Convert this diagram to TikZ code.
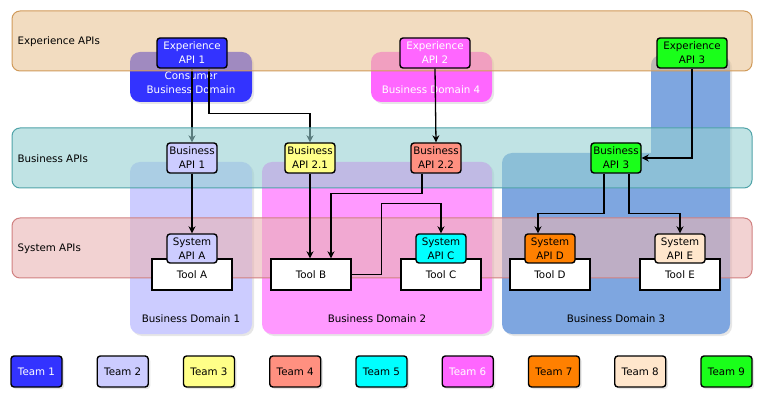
\documentclass[tikz,border=0pt]{standalone}
\usepackage{fontspec}
\setmainfont{DejaVu Sans}
\usetikzlibrary{shadows,arrows.meta}

\definecolor{teamone}{HTML}{3333FF}
\definecolor{teamtwo}{HTML}{CCCCFF}
\definecolor{teamthree}{HTML}{FFFF88}
\definecolor{teamfour}{HTML}{FF9080}
\definecolor{teamfive}{HTML}{00FFFF}
\definecolor{teamsix}{HTML}{FF66FF}
\definecolor{teamseven}{HTML}{FF8000}
\definecolor{teameight}{HTML}{FFE6CC}
\definecolor{teamnine}{HTML}{1AFF1A}
\definecolor{domtwo}{HTML}{FF99FF}
\definecolor{domthree}{HTML}{7EA6E0}
\definecolor{expfill}{HTML}{E9C596}
\definecolor{expline}{HTML}{D09A5A}
\definecolor{busfill}{HTML}{96D0D2}
\definecolor{busline}{HTML}{4FA3A8}
\definecolor{sysfill}{HTML}{E9B4B4}
\definecolor{sysline}{HTML}{D08080}

\newcommand{\apifont}{\fontsize{10.3}{14}\selectfont}

\pgfdeclarelayer{bg}
\pgfdeclarelayer{mid}
\pgfsetlayers{bg,mid,main}

\begin{document}
\begin{tikzpicture}[x=1pt,y=-1pt,
    band/.style={rounded corners=8pt,line width=1pt,fill opacity=0.6},
    bizdomain/.style={rounded corners=10pt,drop shadow={opacity=0.2,shadow xshift=2pt,shadow yshift=-2pt}},
    domlbl/.style={font=\apifont,align=center},
    bandlbl/.style={font=\apifont,anchor=west},
    api/.style={draw=black,line width=1.4pt,rounded corners=3pt,minimum width=50pt,minimum height=30pt,inner sep=0pt,align=center,font=\apifont},
    expapi/.style={api,minimum width=70pt},
    tool/.style={draw=black,line width=1.4pt,fill=white,minimum width=80pt,minimum height=31pt,inner sep=0pt,font=\apifont},
    team/.style={api,minimum width=51pt,minimum height=31pt,drop shadow={opacity=0.2,shadow xshift=2pt,shadow yshift=-2pt}},
    arr/.style={-{Stealth[length=7pt,width=7pt]},line width=1.3pt}]
    \useasboundingbox (0,0) rectangle (768,403);

    % business domains
    \begin{pgfonlayer}{bg}
    \path[bizdomain,fill=teamone] (130,52) rectangle (252,102);
    \path[bizdomain,fill=teamsix] (371,52) rectangle (492,102);
    \path[bizdomain,fill=teamtwo] (130,162) rectangle (252,334);
    \path[bizdomain,fill=domtwo] (262,162) rectangle (492,334);
    \path[bizdomain,fill=domthree] (651,55) rectangle (730,334) (502,153) rectangle (730,334);
    \node[domlbl,text=white] (consumer) at (191,82.5) {Consumer\\Business Domain};
    \node[domlbl,text=white] (domfour) at (431,90) {Business Domain 4};
    \node[domlbl] (domone) at (191,319) {Business Domain 1};
    \node[domlbl] (domtwo) at (377,319) {Business Domain 2};
    \node[domlbl] (domthree) at (616,319) {Business Domain 3};
    \end{pgfonlayer}

    % layers
    \begin{pgfonlayer}{mid}
    \draw[band,fill=expfill,draw=expline] (12,11) rectangle (752,71);
    \draw[band,fill=busfill,draw=busline] (12,128) rectangle (752,188);
    \draw[band,fill=sysfill,draw=sysline] (12,218) rectangle (752,278);
    \end{pgfonlayer}
    \node[bandlbl] (explbl) at (14,42) {Experience APIs};
    \node[bandlbl] (buslbl) at (14,159) {Business APIs};
    \node[bandlbl] (syslbl) at (14,249) {System APIs};

    % experience apis
    \node[expapi,fill=teamone,text=white] (exp1) at (192,53) {Experience\\API 1};
    \node[expapi,fill=teamsix,text=white] (exp2) at (435,53) {Experience\\API 2};
    \node[expapi,fill=teamnine] (exp3) at (692,53) {Experience\\API 3};

    % business apis
    \node[api,fill=teamtwo] (bapi1) at (192,158) {Business\\API 1};
    \node[api,fill=teamthree] (bapi21) at (310,158) {Business\\API 2.1};
    \node[api,fill=teamfour] (bapi22) at (436,158) {Business\\API 2.2};
    \node[api,fill=teamnine] (bapi3) at (616,158) {Business\\API 3};

    % tools and system apis
    \node[tool] (toolA) at (192,274.5) {Tool A};
    \node[tool] (toolB) at (311,274.5) {Tool B};
    \node[tool] (toolC) at (441,274.5) {Tool C};
    \node[tool] (toolD) at (550,274.5) {Tool D};
    \node[tool] (toolE) at (680,274.5) {Tool E};
    \node[api,fill=teamtwo,minimum height=29pt] (sapiA) at (192,248.5) {System\\API A};
    \node[api,fill=teamfive,minimum height=29pt] (sapiC) at (441,248.5) {System\\API C};
    \node[api,fill=teamseven,minimum height=29pt] (sapiD) at (550,248.5) {System\\API D};
    \node[api,fill=teameight,minimum height=29pt] (sapiE) at (680,248.5) {System\\API E};

    % connectors
    \begin{pgfonlayer}{bg}
    \draw[arr] (exp1.south) -- (bapi1.north);
    \draw[arr] ([xshift=17pt]exp1.south) -- ++(0,45) -| (bapi21.north);
    \end{pgfonlayer}
    \draw[arr] (exp2.south) -- (bapi22.north);
    \draw[arr] (exp3.south) |- (bapi3.east);
    \draw[arr] (bapi1.south) -- (sapiA.north);
    \draw[arr] (bapi21.south) -- ([xshift=-1pt]toolB.north);
    \draw[arr] ([xshift=-14pt]bapi22.south) -- ++(0,20) -| ([xshift=20pt]toolB.north);
    \draw[arr] (toolB.east) -- ++(30,0) -- ++(0,-71) -| (sapiC.north);
    \draw[arr] ([xshift=-12pt]bapi3.south) -- ++(0,40) -| ([xshift=-12pt]sapiD.north);
    \draw[arr] ([xshift=13pt]bapi3.south) -- ++(0,40) -| (sapiE.north);

    % teams
    \foreach \i/\col/\txt in {1/teamone/white,2/teamtwo/black,3/teamthree/black,
        4/teamfour/black,5/teamfive/black,6/teamsix/white,7/teamseven/black,
        8/teameight/black,9/teamnine/black}
        \node[team,fill=\col,text=\txt] (team\i) at ({36.5+86.25*(\i-1)},371.5) {Team \i};
\end{tikzpicture}
\end{document}
